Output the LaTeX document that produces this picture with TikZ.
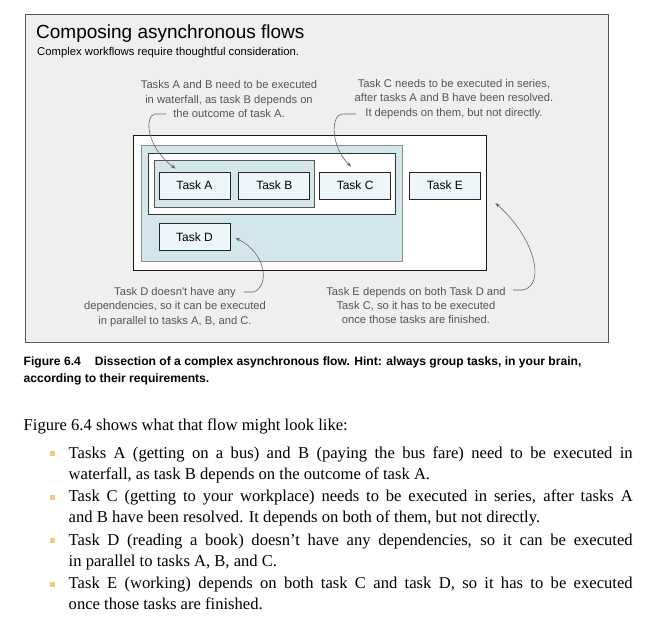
\documentclass[tikz,border=0pt]{standalone}
\usepackage{fontspec}
\setmainfont{Liberation Sans}
\newfontfamily\bookfont{Liberation Serif}
\usetikzlibrary{positioning,arrows.meta}
\definecolor{panel}{HTML}{EFEFED}
\definecolor{groupblue}{HTML}{D3E6EB}
\definecolor{taskfill}{HTML}{EEF6FA}
\definecolor{notegray}{HTML}{555555}
\definecolor{bulletorange}{HTML}{F3C882}
\newcommand{\task}[3] {
    \node[taskbox,#2] (#1) {#3};
}
\newcommand{\groupbox}[5] {
    \draw[#1] ({#2},{#3}) rectangle ({#4},{#5});
}
\tikzset{
    taskbox/.style={draw=black!85,fill=taskfill,thick,minimum width=71,
        minimum height=27,inner sep=0,font=\fontsize{12}{14}\selectfont},
    note/.style={align=center,text=notegray,inner sep=0,
        font=\fontsize{11.2}{14.3}\selectfont},
    callout/.style={draw=black!60,semithick,-{Stealth[length=5pt,width=3.5pt]}},
    booktext/.style={anchor=north west,inner sep=0,text width=564,align=justify,
        font=\bookfont\fontsize{16.6}{21}\selectfont},
    captext/.style={anchor=base west,inner sep=0,font=\bfseries\fontsize{12.1}{16}\selectfont},
    bulletmark/.style={fill=bulletorange,minimum size=5,inner sep=0},
}
\begin{document}
\begin{tikzpicture}[x=1pt,y=-1pt,node distance=8]
    \useasboundingbox (0,0) rectangle (646,625);
    \fill[white] (0,0) rectangle (646,625);
    % panel
    \draw[notegray,fill=panel] (25,14) rectangle (608,342);
    \node[anchor=base west,inner sep=0,font=\fontsize{19}{22}\selectfont]
        (title) at (36,38) {Composing asynchronous flows};
    \node[anchor=base west,inner sep=0,font=\fontsize{11.3}{13}\selectfont]
        (subtitle) at (37,55) {Complex workflows require thoughtful consideration.};
    % groups
    \groupbox{draw=black!90,fill=white}{133}{135}{486}{270}
    \groupbox{draw=black!45,fill=groupblue,thick}{141}{145}{402}{261}
    \groupbox{draw=black!80,fill=white,thick}{148}{153}{395}{214}
    \groupbox{draw=black!65,fill=groupblue,thick}{154}{160}{314}{207}
    % tasks
    \node[taskbox] (taskA) at (194.5,185.5) {Task A};
    \task{taskB}{right=of taskA}{Task B}
    \task{taskC}{right=9 of taskB}{Task C}
    \task{taskE}{right=18 of taskC}{Task E}
    \node[taskbox] (taskD) at (194.5,237) {Task D};
    % notes
    \node[note] (noteAB) at (229,99) {Tasks A and B need to be executed\\
        in waterfall, as task B depends on\\the outcome of task A.};
    \node[note] (noteC) at (454,99) {Task C needs to be executed in series,\\
        after tasks A and B have been resolved.\\It depends on them, but not directly.};
    \node[note] (noteD) at (175,307) {Task D doesn\textquotesingle t have any\\
        dependencies, so it can be executed\\in parallel to tasks A, B, and C.};
    \node[note] (noteE) at (416,305.5) {Task E depends on both Task D and\\
        Task C, so it has to be executed\\once those tasks are finished.};
    \coordinate (fromAB) at (166,114);
    \coordinate (fromC) at (356,114);
    \coordinate (fromD) at (244,292);
    \coordinate (fromE) at (513,290);
    \draw[callout] (fromAB) -- (155,114)
        .. controls (145,115) and (145,146) .. ([shift={(17,-3)}]taskA.north west);
    \draw[callout] (fromC) -- (342,114)
        .. controls (331,115) and (330,146) .. ([shift={(-4,-5)}]taskC.north);
    \draw[callout] (fromD) -- (253,292)
        .. controls (269,288) and (268,254) .. ([shift={(5,1)}]taskD.east);
    \draw[callout] (fromE) -- (523,290)
        .. controls (546,285) and (535,238) .. ([shift={(14.5,17.5)}]taskE.east);
    % caption
    \node[captext] (caption) at (23.5,365.5) {Figure 6.4\hspace{14pt}Dissection of a
        complex asynchronous flow. Hint: always group tasks, in your brain,};
    \node[captext] (caption2) at (23.5,382) {according to their requirements.};
    % text below
    \node[anchor=base west,inner sep=0,font=\bookfont\fontsize{16.6}{21}\selectfont]
        (intro) at (23.5,430) {Figure 6.4 shows what that flow might look like:};
    \node[booktext] (itemA) at (68.5,443.3) {\strut Tasks A (getting on a bus) and B
        (paying the bus fare) need to be executed in\linebreak waterfall, as task B
        depends on the outcome of task A.};
    \node[booktext] (itemC) at (68.5,487) {\strut Task C (getting to your workplace)
        needs to be executed in series, after tasks A\linebreak and B have been
        resolved. It depends on both of them, but not directly.};
    \node[booktext] (itemD) at (68.5,530.5) {\strut Task D (reading a book) doesn’t
        have any dependencies, so it can be executed\linebreak in parallel to tasks
        A, B, and C.};
    \node[booktext] (itemE) at (68.5,574) {\strut Task E (working) depends on both
        task C and task D, so it has to be executed\linebreak once those tasks are
        finished.};
    \foreach \y in {453,497,540.5,584}
        \node[bulletmark] at (52,\y) {};
\end{tikzpicture}
\end{document}
